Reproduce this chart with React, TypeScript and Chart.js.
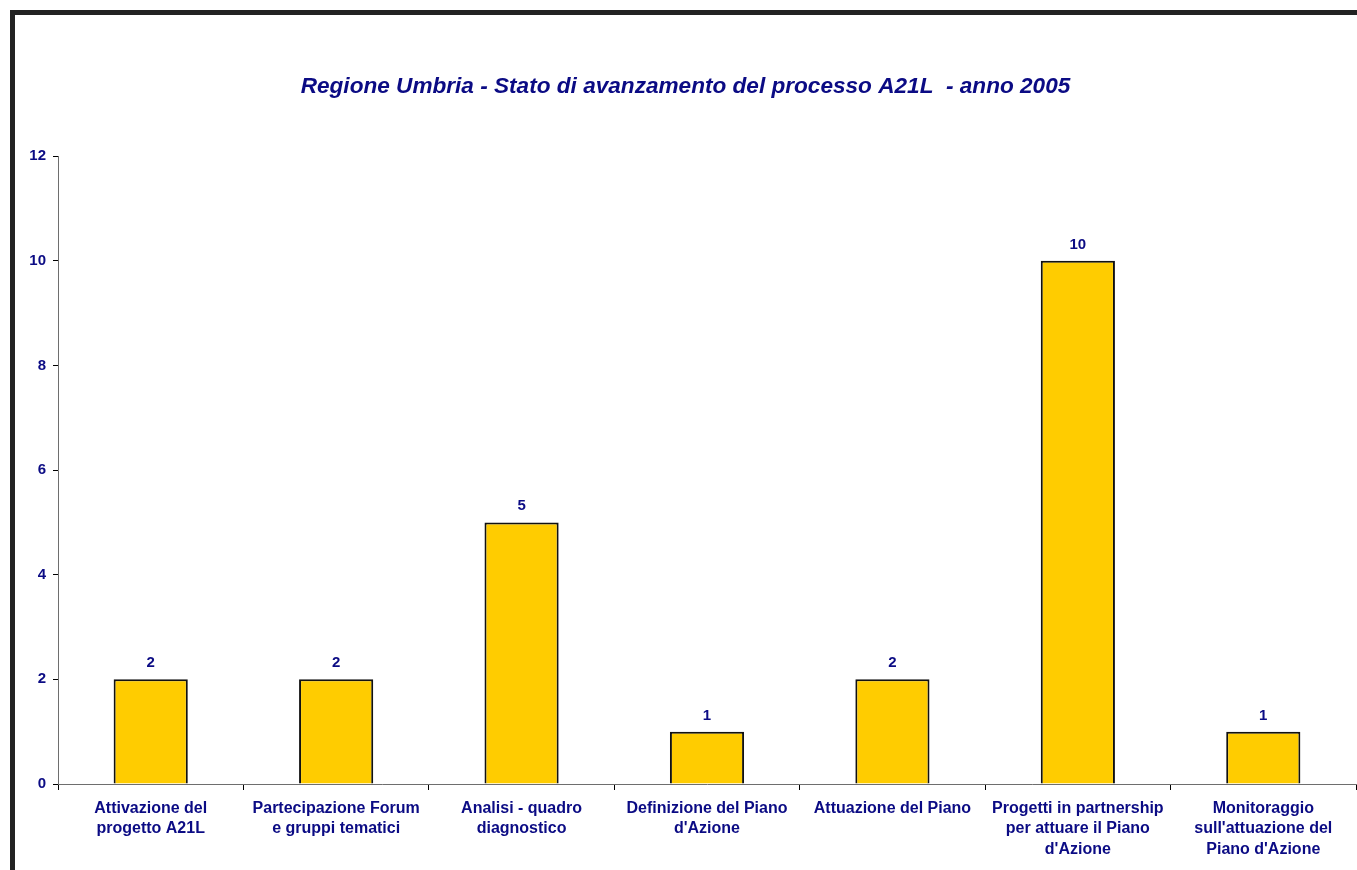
import React, { useEffect, useRef } from "react";
import { Chart, registerables } from "chart.js";

Chart.register(...registerables);

const categories: string[][] = [
  ["Attivazione del", "progetto A21L"],
  ["Partecipazione Forum", "e gruppi tematici"],
  ["Analisi - quadro", "diagnostico"],
  ["Definizione del Piano", "d'Azione"],
  ["Attuazione del Piano"],
  ["Progetti in partnership", "per attuare il Piano", "d'Azione"],
  ["Monitoraggio", "sull'attuazione del", "Piano d'Azione"],
];
const values: number[] = [2, 2, 5, 1, 2, 10, 1];
const yTicks: number[] = [0, 2, 4, 6, 8, 10, 12];
const titleText = "Regione Umbria - Stato di avanzamento del processo A21L  - anno 2005";

const NAVY = "#0b0b84";
const FONT = "'Liberation Sans', Arial, sans-serif";

const valueLabels = {
  id: "valueLabels",
  afterDatasetsDraw(chart: any) {
    const ctx = chart.ctx;
    const meta = chart.getDatasetMeta(0);
    ctx.save();
    ctx.fillStyle = NAVY;
    ctx.font = `bold 15px ${FONT}`;
    ctx.textAlign = "center";
    ctx.textBaseline = "alphabetic";
    meta.data.forEach((bar: any, i: number) => {
      ctx.fillText(String(values[i]), bar.x, bar.y - 12);
    });
    ctx.restore();
  },
};

export default function App() {
  const ref = useRef<HTMLCanvasElement | null>(null);
  useEffect(() => {
    if (!ref.current) return;
    const chart = new Chart(ref.current, {
      type: "bar",
      data: {
        labels: categories,
        datasets: [
          {
            data: values,
            backgroundColor: "#FFCC00",
            borderColor: "#111111",
            borderWidth: 2,
            barPercentage: 0.4,
            categoryPercentage: 1,
          },
        ],
      },
      options: {
        animation: false,
        responsive: false,
        maintainAspectRatio: false,
        layout: { padding: { left: 0, right: 1, top: 0, bottom: 0 } },
        plugins: {
          legend: { display: false },
          tooltip: { enabled: false },
          title: {
            display: true,
            text: titleText,
            color: NAVY,
            font: { family: FONT, size: 22.6, weight: "bold", style: "italic", lineHeight: 1.2 },
            padding: { top: 58, bottom: 56 },
          },
        },
        scales: {
          x: {
            grid: {
              display: true,
              offset: true,
              drawOnChartArea: false,
              drawTicks: true,
              tickLength: 6,
              color: "#000000",
            },
            border: { display: true, color: "#6e6e6e", width: 1 },
            ticks: {
              color: NAVY,
              font: { family: FONT, size: 16, weight: "bold", lineHeight: 1.28 },
              maxRotation: 0,
              minRotation: 0,
              autoSkip: false,
              padding: 8,
            },
            afterFit(scale: any) {
              scale.height = 86;
            },
          },
          y: {
            min: 0,
            max: 12,
            afterBuildTicks(scale: any) {
              scale.ticks = yTicks.map((v) => ({ value: v }));
            },
            grid: {
              display: true,
              drawOnChartArea: false,
              drawTicks: true,
              tickLength: 5,
              color: "#000000",
            },
            border: { display: true, color: "#6e6e6e", width: 1 },
            ticks: {
              color: NAVY,
              font: { family: FONT, size: 15, weight: "bold" },
              padding: 7,
            },
            afterFit(scale: any) {
              scale.width = 43;
            },
          },
        },
      },
      plugins: [valueLabels],
    });
    return () => chart.destroy();
  }, []);

  return (
    <div>
      <div
        style={{
          position: "fixed",
          left: 10,
          top: 10,
          width: 1400,
          height: 900,
          borderTop: "5px solid #222222",
          borderLeft: "5px solid #222222",
          background: "#ffffff",
          boxSizing: "border-box",
        }}
      />
      <canvas
        ref={ref}
        width={1342}
        height={855}
        style={{ position: "fixed", left: 15, top: 15, width: 1342, height: 855 }}
      />
    </div>
  );
}
